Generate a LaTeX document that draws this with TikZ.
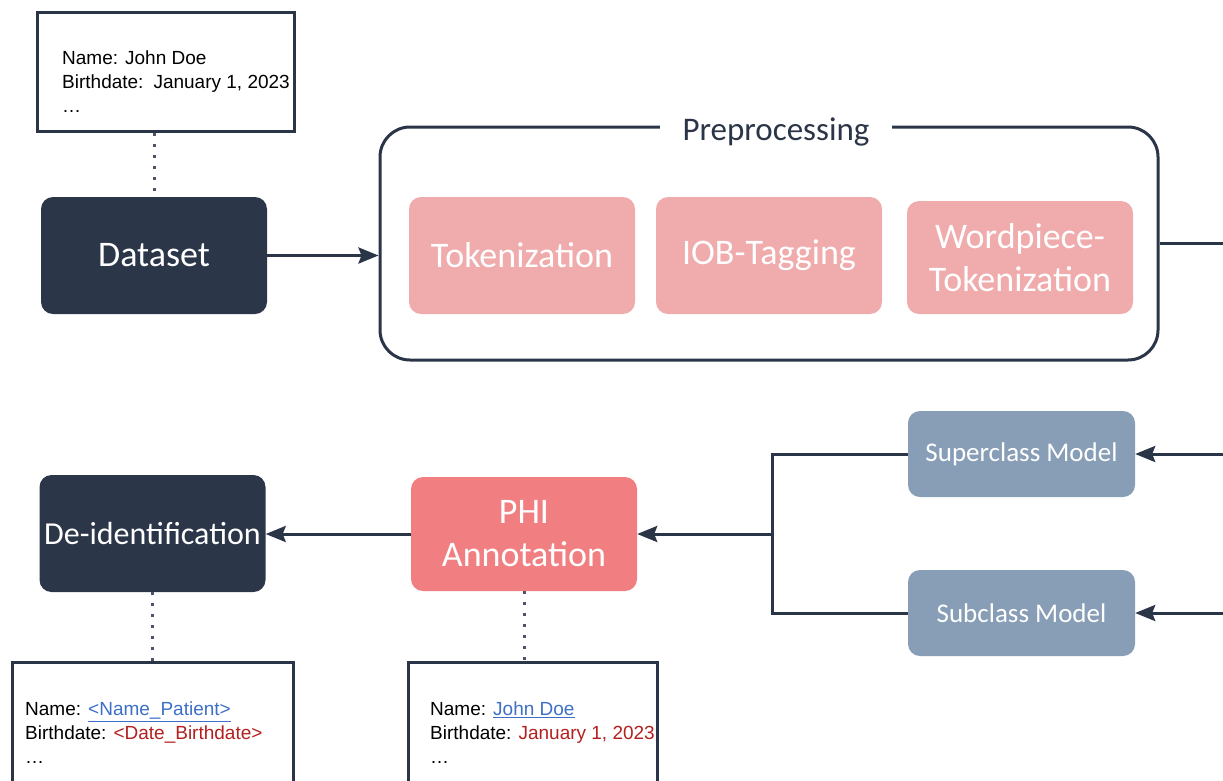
\documentclass[tikz,border=0pt]{standalone}
\usepackage{fontspec}
\setmainfont{Carlito}
\newfontfamily\notefont{Liberation Sans}
\usetikzlibrary{arrows.meta}

\definecolor{navy}{HTML}{2C3649}
\definecolor{linecol}{HTML}{2A3547}
\definecolor{pinklight}{HTML}{F0ABAC}
\definecolor{pinkdark}{HTML}{F17F81}
\definecolor{slate}{HTML}{889EB6}
\definecolor{dotcol}{HTML}{4B5468}
\definecolor{linkblue}{HTML}{3E6FC6}
\definecolor{phired}{HTML}{B3201F}

\tikzset{
  notebox/.style={draw=linecol,line width=3pt},
  notetext/.style={font=\notefont\fontsize{19}{24}\selectfont,align=left,anchor=west,inner sep=0pt},
  dotline/.style={dotcol,line width=3pt,dash pattern=on 3pt off 8pt}
}

\begin{document}
\begin{tikzpicture}[x=1pt,y=-1pt]
  \clip (0,0) rectangle (1223,780);

  % boxes with the record text
  \node[notebox,minimum width=257pt,minimum height=119pt] (rawbox) at (165.5,71.5) {};
  \node[notetext] (rawtext) at (62,82) {Name: John Doe\\Birthdate:\hspace{3pt} January 1, 2023\\…};
  \node[notebox,minimum width=281pt,minimum height=138pt] (anonbox) at (152.5,731) {};
  \node[notetext] (anontext) at (25,733) {Name: {\color{linkblue}\underline{<Name\_Patient>}}\\Birthdate: {\color{phired}<Date\_Birthdate>}\\…};
  \node[notebox,minimum width=249pt,minimum height=138pt] (annotbox) at (532.5,731) {};
  \node[notetext] (annottext) at (430,733) {Name: {\color{linkblue}\underline{John Doe}}\\Birthdate: {\color{phired}January 1, 2023}\\…};

  % preprocessing frame
  \node[draw=linecol,line width=3pt,rounded corners=30pt,minimum width=778pt,minimum height=233pt] (prep) at (769,243.5) {};
  \node[fill=white,inner xsep=23pt,text=linecol,font=\fontsize{33}{40}\selectfont] (preptitle) at (776,132) {Preprocessing};

  \begin{scope}[every node/.style={rounded corners=12pt,text=white,align=center,minimum width=226pt,minimum height=117pt,font=\fontsize{36}{43}\selectfont}]
    \node[fill=navy] (dataset) at (154,255.5) {Dataset};
    \node[fill=pinklight] (token) at (522,255.5) {Tokenization};
    \node[fill=pinklight] (iob) at (769,255.5) {IOB-Tagging};
    \node[fill=pinklight,minimum height=113pt] (wordpiece) at (1020,257.5) {Wordpiece-\\Tokenization};
    \node[fill=navy,font=\fontsize{32}{38}\selectfont] (deid) at (152.5,533.5) {De-identification};
    \node[fill=pinkdark,minimum height=114pt] (phi) at (524,534) {PHI\\Annotation};
    \node[fill=slate,minimum width=227pt,minimum height=86pt,font=\fontsize{27}{32}\selectfont] (superclass) at (1021.5,454) {Superclass Model};
    \node[fill=slate,minimum width=227pt,minimum height=86pt,font=\fontsize{27}{32}\selectfont] (subclass) at (1021.5,613) {Subclass Model};
  \end{scope}

  \coordinate (prepout) at (1223,245);
  \coordinate (supin) at (1223,454);
  \coordinate (subin) at (1223,613);
  \coordinate (join) at (772,534);

  \begin{scope}[>={Stealth[length=20pt,width=16pt,inset=3pt]},
      every edge/.style={draw=linecol,line width=3pt}]
    \path [->] (dataset.east) edge (dataset.east -| prep.west);
    \path (prep.east) edge (prep.east -| prepout);
    \path [->] (supin) edge (superclass.east);
    \path [->] (subin) edge (subclass.east);
    \draw [linecol,line width=3pt] (superclass.west) -| (join) |- (subclass.west);
    \path [->] (join) edge (phi.east);
    \path [->] (phi.west) edge (phi.west -| deid.east);
  \end{scope}

  \draw[dotline] (rawbox.south -| dataset.north) -- (dataset.north);
  \draw[dotline] (deid.south) -- (anonbox.north);
  \draw[dotline] (phi.south) -- (phi.south |- annotbox.north);
\end{tikzpicture}
\end{document}
